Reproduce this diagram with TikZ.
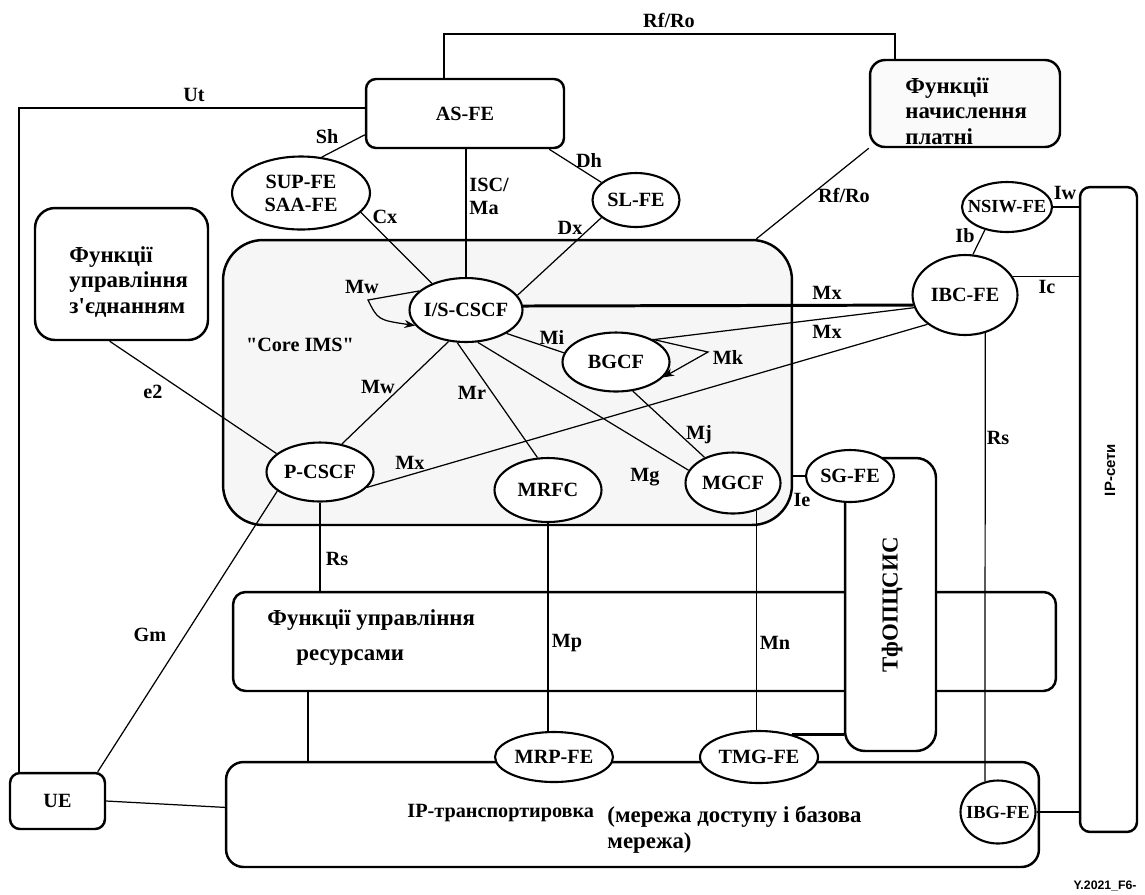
\documentclass[tikz,border=0pt]{standalone}
\usepackage{fontspec}
\setmainfont{Liberation Serif}[Ligatures=TeXOff]
\setsansfont{Liberation Sans}
\usetikzlibrary{shapes.geometric,arrows.meta}

\begin{document}
\begin{tikzpicture}[
        x=0.02cm, y=-0.02cm,
        line width=0.7pt,
        every node/.style={
            font=\fontsize{11.5}{13}\selectfont\bfseries
        },
        fe/.style={ellipse, draw, line width=1.2pt, fill=white, inner sep=0pt},
        blk/.style={draw, line width=1.4pt, inner sep=0pt},
        ukr/.style={font=\fontsize{13}{14.6}\selectfont\bfseries, align=left},
        small/.style={font=\fontsize{10.5}{12}\selectfont\bfseries}
    ]
        \useasboundingbox (0,0) rectangle (1145,894);

        % Blocks
        \node[blk, rounded corners=0.8cm, fill=gray!7, minimum width=11.38cm, minimum height=5.7cm] (core) at (507.5,382.5) {};
        \node[blk, rounded corners=0.2cm, minimum width=3.96cm, minimum height=1.38cm] (asfe) at (465,113.5) {AS-FE};
        \node[blk, rounded corners=0.3cm, fill=gray!4, minimum width=3.8cm, minimum height=1.74cm] (charge) at (965,103.5) {};
        \node[blk, rounded corners=0.4cm, minimum width=3.46cm, minimum height=2.64cm] (conn) at (121.5,274) {};
        \node[blk, rounded corners=0.25cm, minimum width=16.46cm, minimum height=1.98cm] (res) at (644.5,641.5) {};
        \node[blk, rounded corners=0.4cm, fill=white, minimum width=1.82cm, minimum height=5.86cm] (pstn) at (890.5,604.5) {};
        \node[blk, rounded corners=0.35cm, minimum width=16.26cm, minimum height=2.1cm] (ip) at (632.5,814.5) {};
        \node[blk, rounded corners=0.2cm, minimum width=1.14cm, minimum height=12.9cm] (ipnet) at (1108.5,509.5) {};
        \node[blk, rounded corners=0.2cm, minimum width=1.9cm, minimum height=1.12cm] (ue) at (57.5,801) {UE};

        % Block texts
        \node[ukr, anchor=west] (chargetxt) at (899,111) {Функції\\начислення\\платні};
        \node[ukr, anchor=west] (conntxt) at (63,282) {Функції\\управління\\з'єднанням};
        \node (coretxt) at (300,345) {"Core IMS"};
        \node[ukr, anchor=west] (restxt) at (261,620) {Функції управління};
        \node[ukr, anchor=west] (restxt2) at (290,658) {ресурсами};
        \node[anchor=west] (iptxt) at (401,813) {IP-транспортировка};
        \node[ukr, anchor=west] (iptxt2) at (601,830) {(мережа доступу і базова\\мережа)};
        \node[ukr, rotate=90] (pstntxt) at (892,605) {ТфОПЦСИС};
        \node[rotate=90, font=\sffamily\bfseries\fontsize{8.5}{10}\selectfont] (ipnettxt) at (1110,470) {IP-сети};

        % Functional entities
        \node[fe, minimum width=2.76cm, minimum height=1.46cm, label={[align=center]center:SUP-FE\\SAA-FE}] (sup) at (301,193) {};
        \node[fe, minimum width=1.74cm, minimum height=1.08cm, label=center:SL-FE] (slfe) at (636,200) {};
        \node[fe, minimum width=1.8cm, minimum height=1.0cm, label={[small]center:NSIW-FE}] (nsiw) at (1007,207) {};
        \node[fe, minimum width=2.1cm, minimum height=1.6cm, label=center:IBC-FE] (ibc) at (965,295) {};
        \node[fe, minimum width=2.26cm, minimum height=1.28cm, label=center:I/S-CSCF] (iscscf) at (466,310) {};
        \node[fe, minimum width=2.14cm, minimum height=1.18cm, label=center:BGCF] (bgcf) at (616,362) {};
        \node[fe, minimum width=2.14cm, minimum height=1.18cm, label=center:P-CSCF] (pcscf) at (320,472) {};
        \node[fe, minimum width=2.14cm, minimum height=1.28cm, label=center:MRFC] (mrfc) at (548,490) {};
        \node[fe, minimum width=1.9cm, minimum height=1.22cm, label=center:MGCF] (mgcf) at (733,483) {};
        \node[fe, minimum width=1.76cm, minimum height=1.04cm, label=center:SG-FE] (sgfe) at (850,476) {};
        \node[fe, minimum width=2.36cm, minimum height=1.0cm, label=center:MRP-FE] (mrp) at (554,757) {};
        \node[fe, minimum width=2.36cm, minimum height=1.04cm, label=center:TMG-FE] (tmg) at (759,757) {};
        \node[fe, minimum width=1.5cm, minimum height=1.26cm, label={[small]center:IBG-FE}] (ibg) at (998,812) {};

        % Top links
        \coordinate (utbend) at (19,108);
        \draw (asfe.west |- utbend) -- (utbend) -- (utbend |- ue.north);
        \coordinate (rfleft) at (444,34);
        \coordinate (rfright) at (895,34);
        \draw (rfleft |- asfe.north) -- (rfleft) -- (rfright) -- (rfright |- charge.north);
        \draw (asfe.192) -- (sup.60);
        \draw (sup.-18) -- (iscscf.142);
        \draw (iscscf.north |- asfe.south) -- (iscscf.north);
        \draw (asfe.-23.6) -- (slfe.153);
        \draw (slfe.207) -- (iscscf.16);
        \draw (charge.south west) -- (core.30.4);
        \draw (nsiw.east) -- (nsiw.east -| ipnet.west);
        \draw (nsiw.226) -- (ibc.79);
        \draw (ibc.21) -- (ibc.21 -| ipnet.west);

        % Core IMS links
        \draw[line width=1.7pt] (iscscf.4) -- (ibc.191);
        \draw (ibc.194) -- (bgcf.31);
        \draw (ibc.218) -- (pcscf.-18);
        \coordinate (mwbend) at (368,300);
        \draw[-{Stealth}] (iscscf.158) -- (mwbend) .. controls (378,320) .. (iscscf.197);
        \coordinate (mkbend) at (708,352);
        \draw[-{Stealth}] (bgcf.32) -- (mkbend) -- (bgcf.-18);
        \draw (iscscf.-30) -- (bgcf.170);
        \draw (iscscf.241) -- (pcscf.52);
        \draw (iscscf.255) -- (mrfc.108);
        \draw (iscscf.-70) -- (mgcf.164);
        \draw (bgcf.-60) -- (mgcf.138);
        \draw (core.east |- sgfe.west) -- (sgfe.west);
        \draw (conn.260) -- (pcscf.157);

        % Lower links
        \draw (pcscf.204) -- (ue.36);
        \draw (pcscf.south) -- (pcscf.south |- res.north);
        \coordinate (resip) at (308,700);
        \draw (res.south -| resip) -- (ip.north -| resip);
        \draw (mrfc.south) -- (mrfc.south |- mrp.north);
        \draw (mgcf.-50) -- (mgcf.-50 |- tmg.north);
        \draw[line width=1.5pt] (tmg.35) -- (tmg.35 -| pstn.west);
        \draw (ibc.-62) -- (ibg.113);
        \draw (ibg.east) -- (ibg.east -| ipnet.west);
        \draw (ue.east) -- (ip.179);

        % Reference points
        \node (rfro1) at (669,20) {Rf/Ro};
        \node (ut) at (194,95) {Ut};
        \node (sh) at (327,137) {Sh};
        \node (cx) at (385,217) {Cx};
        \node[anchor=west, align=left] (iscma) at (463,196) {ISC/\\Ma};
        \node (dh) at (589,160) {Dh};
        \node (dx) at (570,228) {Dx};
        \node (rfro2) at (844,195) {Rf/Ro};
        \node (iw) at (1065,193) {Iw};
        \node (ib) at (965,236) {Ib};
        \node (ic) at (1047,287) {Ic};
        \node (mx1) at (827,293) {Mx};
        \node (mx2) at (827,332) {Mx};
        \node (mx3) at (410,463) {Mx};
        \node (mw1) at (362,287) {Mw};
        \node (mw2) at (378,387) {Mw};
        \node (mi) at (552,337) {Mi};
        \node (mk) at (728,357) {Mk};
        \node (mr) at (472,393) {Mr};
        \node (mj) at (699,435) {Mj};
        \node (mg) at (645,477) {Mg};
        \node (ie) at (802,500) {Ie};
        \node (e2) at (153,392) {e2};
        \node (rs1) at (337,559) {Rs};
        \node (gm) at (150,635) {Gm};
        \node (mp) at (567,643) {Mp};
        \node (mn) at (775,643) {Mn};
        \node (rs2) at (998,438) {Rs};
        \node[anchor=east, font=\sffamily\bfseries\fontsize{7}{8}\selectfont] (figid) at (1143,886) {Y.2021\_F6-};
    \end{tikzpicture}
\end{document}
